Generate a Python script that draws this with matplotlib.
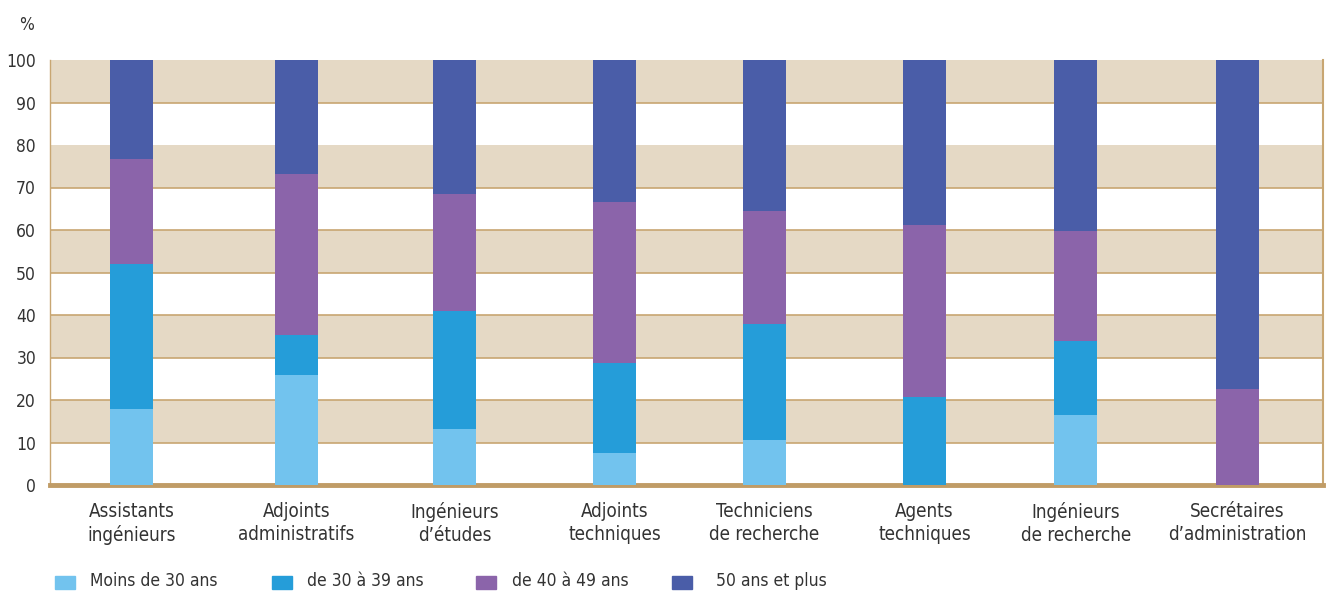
import numpy as np
import matplotlib.pyplot as plt
from matplotlib.patches import Rectangle

plt.rcParams['font.family'] = ['Liberation Sans Narrow', 'DejaVu Sans']
plt.rcParams['font.stretch'] = 'condensed'

categories = ["Assistants\ningénieurs", "Adjoints\nadministratifs", "Ingénieurs\nd\u2019études",
              "Adjoints\ntechniques", "Techniciens\nde recherche", "Agents\ntechniques",
              "Ingénieurs\nde recherche", "Secrétaires\nd\u2019administration"]
series_names = ["Moins de 30 ans", "de 30 à 39 ans", "de 40 à 49 ans", "50 ans et plus"]

moins_30 = [17.9, 25.9, 13.2, 7.5, 10.6, 0.0, 16.5, 0.0]
de_30_39 = [34.0, 9.3, 27.8, 21.1, 27.4, 20.8, 17.5, 0.0]
de_40_49 = [24.8, 37.9, 27.4, 37.9, 26.4, 40.3, 25.7, 22.6]
plus_50 = [23.3, 26.9, 31.6, 33.5, 35.6, 38.9, 40.3, 77.4]

colors = ["#72c3ee", "#259dd9", "#8b64aa", "#4a5da8"]
band_col = "#e5d9c5"
line_col = "#c8a672"
text_col = "#333333"

fig = plt.figure(figsize=(13.28, 5.92), dpi=100)
ax = fig.add_axes([50 / 1328, 1 - 485 / 592, 1273 / 1328, 425 / 592])

# alternate beige bands
for lo in range(10, 100, 20):
    ax.axhspan(lo, lo + 10, color=band_col, lw=0, zorder=0)
for y in range(10, 100, 10):
    if y == 80:
        continue
    ax.axhline(y, color=line_col, lw=1.2, zorder=1)

# bar centres follow the slightly uneven spacing of the original
x = np.array([0, 1.044, 2.044, 3.057, 4.006, 5.019, 5.975, 7.0])
bottom = np.zeros(len(categories))
for vals, c in zip([moins_30, de_30_39, de_40_49, plus_50], colors):
    vals = np.array(vals)
    ax.bar(x, vals, width=0.272, bottom=bottom, color=c, zorder=3)
    bottom += vals

ax.set_xlim(-0.516, 7.54)
ax.set_ylim(0, 100)
ax.set_yticks(range(0, 101, 10))
ax.tick_params(axis='y', length=0, pad=10, labelsize=12.5, labelcolor=text_col)
ax.set_xticks(x)
ax.set_xticklabels(categories, fontsize=13.5, color=text_col, linespacing=1.3)
ax.tick_params(axis='x', length=0, pad=12)

ax.spines['top'].set_visible(False)
ax.spines['bottom'].set_color("#c09c66")
ax.spines['bottom'].set_linewidth(3.5)
ax.spines['left'].set_color(line_col)
ax.spines['left'].set_linewidth(1)
ax.spines['right'].set_color(line_col)
ax.spines['right'].set_linewidth(1.5)

fig.text(27 / 1328, 1 - 25 / 592, "%", fontsize=12.5, color=text_col, ha='center', va='center')

# legend along the bottom
sq_x = [55, 272, 476, 672]
txt_x = [90, 307, 512, 716]
for name, c, sx, tx in zip(series_names, colors, sq_x, txt_x):
    fig.patches.append(Rectangle((sx / 1328, 1 - 589 / 592), 20 / 1328, 13 / 592,
                                 transform=fig.transFigure, color=c))
    fig.text(tx / 1328, 1 - 581 / 592, name, fontsize=12.5, color=text_col, va='center')

fig.savefig("out.png", dpi=100)
